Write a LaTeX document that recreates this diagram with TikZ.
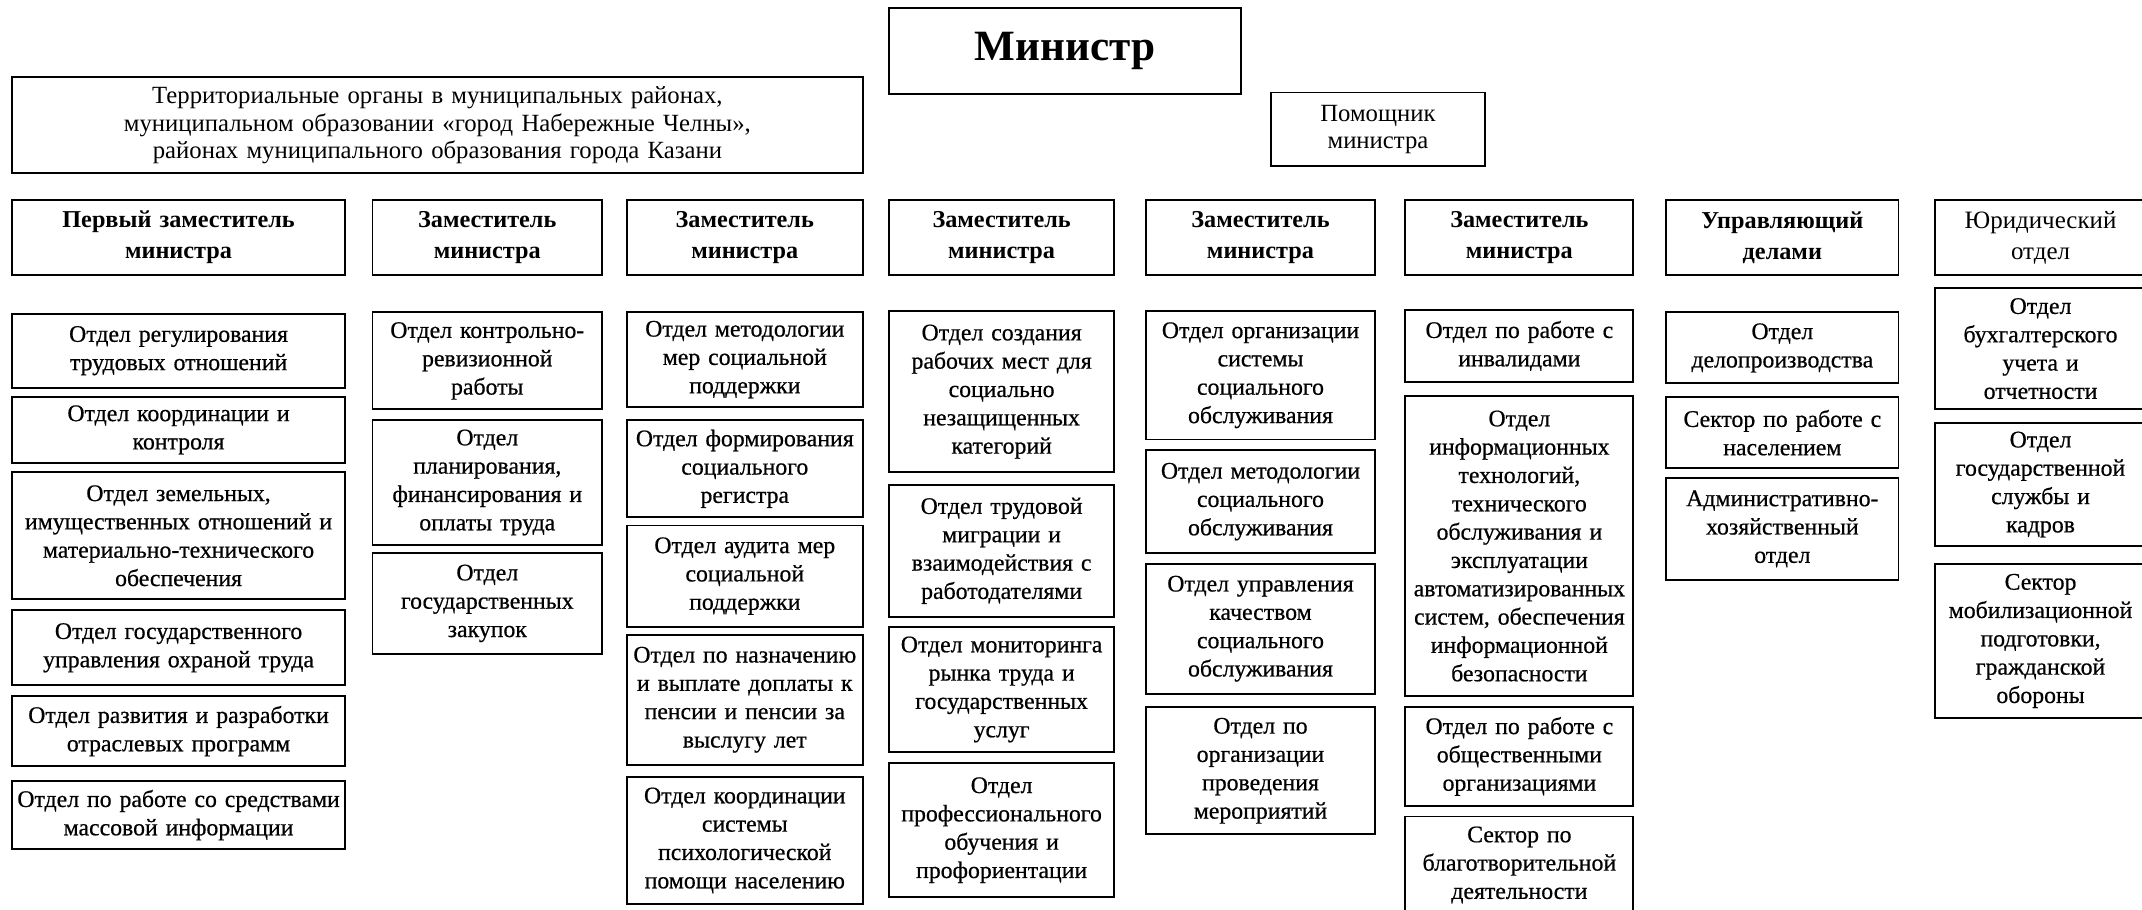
\documentclass[tikz,border=0pt]{standalone}
\usepackage{fontspec}
\setmainfont{Liberation Serif}
\newfontfamily\deptfont{Liberation Serif}[FakeBold=0.6]

\begin{document}
\begin{tikzpicture}[
        box/.style={draw,line width=0.8pt,anchor=north west,align=center,inner xsep=0pt,inner ysep=0pt},
        head/.style={box,font=\fontsize{10.1}{13}\selectfont\bfseries,minimum height=1.09cm},
        dept/.style={box,font=\deptfont\fontsize{9.9}{11.8}\selectfont},
        plain/.style={box,font=\fontsize{10.3}{11.4}\selectfont},
        cA/.style={text width=4.88cm},cB/.style={text width=3.36cm},
        cC/.style={text width=3.46cm},cD/.style={text width=3.30cm},
        cE/.style={text width=3.36cm},cF/.style={text width=3.34cm},
        cG/.style={text width=3.40cm},cH/.style={text width=3.08cm}]
        \useasboundingbox[fill=white](0,0)rectangle(31.36,-13.32);

        \node[box,font=\fontsize{18}{20}\selectfont\bfseries,text width=5.16cm,minimum height=1.26cm](min)at(13.00,-0.10){Министр};
        \node[plain,text width=12.46cm,minimum height=1.40cm](terr)at(0.16,-1.12){Территориальные органы в муниципальных районах,\\муниципальном образовании «город Набережные Челны»,\\районах муниципального образования города Казани};
        \node[plain,text width=3.12cm,minimum height=1.08cm](pom)at(18.60,-1.34){Помощник\\министра};

        \node[head,cA](zam1)at(0.16,-2.92){Первый заместитель\\министра};
        \node[head,cB](zam2)at(5.44,-2.92){Заместитель\\министра};
        \node[head,cC](zam3)at(9.16,-2.92){Заместитель\\министра};
        \node[head,cD](zam4)at(13.00,-2.92){Заместитель\\министра};
        \node[head,cE](zam5)at(16.76,-2.92){Заместитель\\министра};
        \node[head,cF](zam6)at(20.56,-2.92){Заместитель\\министра};
        \node[head,cG](upr)at(24.38,-2.92){Управляющий\\делами};
        \node[head,cH,font=\fontsize{10.4}{13}\selectfont](jur)at(28.32,-2.92){Юридический\\отдел};

        \node[dept,cA,minimum height=1.08cm](r1)at(0.16,-4.58){Отдел регулирования\\трудовых отношений};
        \node[dept,cA,minimum height=0.96cm](r2)at(0.16,-5.80){Отдел координации и\\контроля};
        \node[dept,cA,minimum height=1.86cm](r3)at(0.16,-6.90){Отдел земельных,\\имущественных отношений и\\материально-технического\\обеспечения};
        \node[dept,cA,minimum height=1.10cm](r4)at(0.16,-8.92){Отдел государственного\\управления охраной труда};
        \node[dept,cA,minimum height=1.02cm](r5)at(0.16,-10.18){Отдел развития и разработки\\отраслевых программ};
        \node[dept,cA,minimum height=1.00cm](r6)at(0.16,-11.42){Отдел по работе со средствами\\массовой информации};

        \node[dept,cB,minimum height=1.42cm](k1)at(5.44,-4.56){Отдел контрольно-\\ревизионной\\работы};
        \node[dept,cB,minimum height=1.82cm](k2)at(5.44,-6.14){Отдел\\планирования,\\финансирования и\\оплаты труда};
        \node[dept,cB,minimum height=1.48cm](k3)at(5.44,-8.08){Отдел\\государственных\\закупок};

        \node[dept,cC,minimum height=1.38cm](s1)at(9.16,-4.56){Отдел методологии\\мер социальной\\поддержки};
        \node[dept,cC,minimum height=1.42cm](s2)at(9.16,-6.14){Отдел формирования\\социального\\регистра};
        \node[dept,cC,minimum height=1.48cm](s3)at(9.16,-7.68){Отдел аудита мер\\социальной\\поддержки};
        \node[dept,cC,minimum height=1.90cm](s4)at(9.16,-9.28){Отдел по назначению\\и выплате доплаты к\\пенсии и пенсии за\\выслугу лет};
        \node[dept,cC,minimum height=1.86cm](s5)at(9.16,-11.36){Отдел координации\\системы\\психологической\\помощи населению};

        \node[dept,cD,minimum height=2.36cm](t1)at(13.00,-4.54){Отдел создания\\рабочих мест для\\социально\\незащищенных\\категорий};
        \node[dept,cD,minimum height=1.94cm](t2)at(13.00,-7.08){Отдел трудовой\\миграции и\\взаимодействия с\\работодателями};
        \node[dept,cD,minimum height=1.84cm](t3)at(13.00,-9.16){Отдел мониторинга\\рынка труда и\\государственных\\услуг};
        \node[dept,cD,minimum height=1.96cm](t4)at(13.00,-11.16){Отдел\\профессионального\\обучения и\\профориентации};

        \node[dept,cE,minimum height=1.88cm](o1)at(16.76,-4.54){Отдел организации\\системы\\социального\\обслуживания};
        \node[dept,cE,minimum height=1.50cm](o2)at(16.76,-6.58){Отдел методологии\\социального\\обслуживания};
        \node[dept,cE,minimum height=1.90cm](o3)at(16.76,-8.24){Отдел управления\\качеством\\социального\\обслуживания};
        \node[dept,cE,minimum height=1.86cm](o4)at(16.76,-10.34){Отдел по\\организации\\проведения\\мероприятий};

        \node[dept,cF,minimum height=1.06cm](i1)at(20.56,-4.52){Отдел по работе с\\инвалидами};
        \node[dept,cF,minimum height=4.40cm](i2)at(20.56,-5.78){Отдел\\информационных\\технологий,\\технического\\обслуживания и\\эксплуатации\\автоматизированных\\систем, обеспечения\\информационной\\безопасности};
        \node[dept,cF,minimum height=1.44cm](i3)at(20.56,-10.34){Отдел по работе с\\общественными\\организациями};
        \node[dept,cF,minimum height=1.42cm](i4)at(20.56,-11.94){Сектор по\\благотворительной\\деятельности};

        \node[dept,cG,minimum height=1.04cm](d1)at(24.38,-4.56){Отдел\\делопроизводства};
        \node[dept,cG,minimum height=1.04cm](d2)at(24.38,-5.80){Сектор по работе с\\населением};
        \node[dept,cG,minimum height=1.50cm](d3)at(24.38,-6.98){Административно-\\хозяйственный\\отдел};

        \node[dept,cH,minimum height=1.78cm](b1)at(28.32,-4.20){Отдел\\бухгалтерского\\учета и\\отчетности};
        \node[dept,cH,minimum height=1.80cm](b2)at(28.32,-6.18){Отдел\\государственной\\службы и\\кадров};
        \node[dept,cH,minimum height=2.26cm](b3)at(28.32,-8.24){Сектор\\мобилизационной\\подготовки,\\гражданской\\обороны};
    \end{tikzpicture}
\end{document}
